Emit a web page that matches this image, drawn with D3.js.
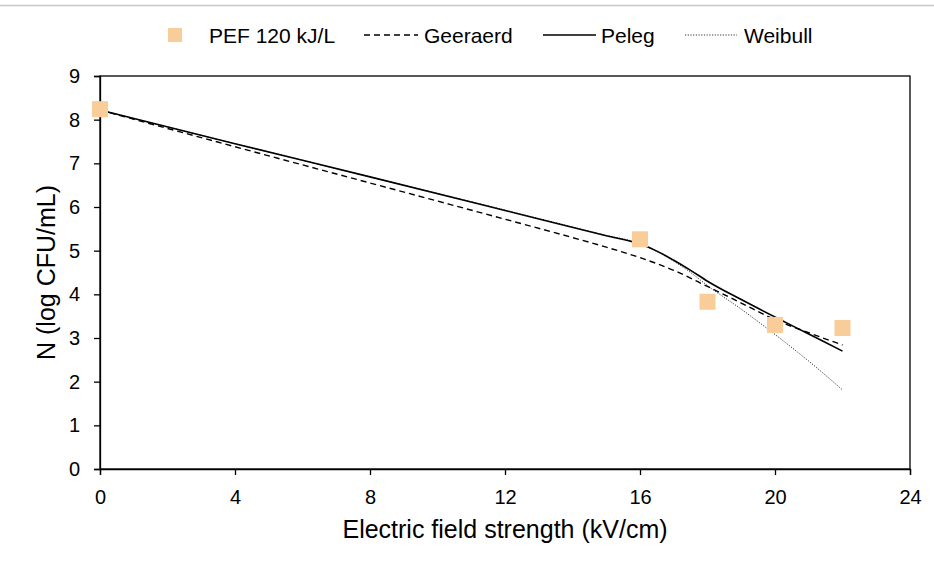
<!DOCTYPE html>
<head>
    <meta charset="utf-8">
    <script src="https://d3js.org/d3.v7.min.js"></script>
    <style>
        body { margin: 0; background: #fff; }
        text { font-family: "Liberation Sans", Arial, sans-serif; fill: #000; }
    </style>
</head>

<body>
    <svg width="934" height="565"></svg>

    <script>
        // measured data
        const obsE = [0, 16, 18, 20, 22]
        const obsN = [8.24, 5.26, 3.83, 3.30, 3.23]

        // model curves
        const geeraerdE = [0, 4, 8, 12, 14, 15, 16, 17, 18, 19, 20, 21, 22]
        const geeraerdN = [8.22, 7.38, 6.55, 5.72, 5.30, 5.08, 4.84, 4.55, 4.18, 3.80, 3.42, 3.12, 2.84]
        const pelegE = [0, 4, 8, 12, 15, 16, 16.5, 17, 17.5, 18, 19, 20, 21, 22]
        const pelegN = [8.22, 7.45, 6.69, 5.92, 5.34, 5.15, 4.99, 4.78, 4.55, 4.30, 3.88, 3.48, 3.09, 2.70]
        const weibullE = [0, 4, 8, 12, 15, 16, 16.5, 17, 17.5, 18, 19, 20, 21, 22]
        const weibullN = [8.22, 7.45, 6.69, 5.93, 5.35, 5.16, 4.98, 4.76, 4.50, 4.20, 3.66, 3.08, 2.47, 1.81]

        const xTicks = [0, 4, 8, 12, 16, 20, 24]
        const yTicks = [0, 1, 2, 3, 4, 5, 6, 7, 8, 9]

        const svg = d3.select("svg")
        const mLeft = 100, mRight = 910, mTop = 76, mBottom = 469

        const x = d3.scaleLinear().domain([0, 24]).range([mLeft, mRight])
        const y = d3.scaleLinear().domain([0, 9]).range([mBottom, mTop])

        // thin grey rule at the very top
        svg.append("line")
            .attr("x1", 0).attr("x2", 934).attr("y1", 5.5).attr("y2", 5.5)
            .attr("stroke", "#c8c8c8").attr("stroke-width", 1.5)

        // plot frame
        svg.append("rect")
            .attr("x", mLeft).attr("y", mTop)
            .attr("width", mRight - mLeft).attr("height", mBottom - mTop)
            .attr("fill", "none").attr("stroke", "#000").attr("stroke-width", 1.3)

        const xAxis = svg.append("g")
            .attr("transform", `translate(0,${mBottom})`)
            .call(d3.axisBottom(x).tickValues(xTicks).tickSize(6).tickPadding(15))
        const yAxis = svg.append("g")
            .attr("transform", `translate(${mLeft},0)`)
            .call(d3.axisLeft(y).tickValues(yTicks).tickSize(6).tickPadding(14))

        for (const ax of [xAxis, yAxis]) {
            ax.select(".domain").attr("stroke", "#000").attr("stroke-width", 1.3)
            ax.selectAll(".tick line").attr("stroke", "#000").attr("stroke-width", 1.3)
            ax.selectAll(".tick text").style("font-size", "20px")
                .style("font-family", "'Liberation Sans', Arial, sans-serif")
        }

        // axis titles
        svg.append("text")
            .attr("x", (mLeft + mRight) / 2).attr("y", 538)
            .attr("text-anchor", "middle").style("font-size", "25px")
            .text("Electric field strength (kV/cm)")
        svg.append("text")
            .attr("transform", `translate(55,${(mTop + mBottom) / 2}) rotate(-90)`)
            .attr("text-anchor", "middle").style("font-size", "25px")
            .text("N (log CFU/mL)")

        // model lines
        const line = d3.line().x(d => x(d[0])).y(d => y(d[1])).curve(d3.curveMonotoneX)
        const zip = (a, b) => a.map((v, i) => [v, b[i]])

        svg.append("path")
            .attr("d", line(zip(weibullE, weibullN)))
            .attr("fill", "none").attr("stroke", "#333").attr("stroke-width", 1)
            .attr("stroke-dasharray", "1.2,1.5")
        svg.append("path")
            .attr("d", line(zip(geeraerdE, geeraerdN)))
            .attr("fill", "none").attr("stroke", "#000").attr("stroke-width", 1.4)
            .attr("stroke-dasharray", "6,4")
        svg.append("path")
            .attr("d", line(zip(pelegE, pelegN)))
            .attr("fill", "none").attr("stroke", "#000").attr("stroke-width", 1.6)

        // observed points
        const sq = 16
        svg.selectAll("rect.obs")
            .data(zip(obsE, obsN))
            .enter()
            .append("rect")
            .attr("class", "obs")
            .attr("x", d => x(d[0]) - sq / 2)
            .attr("y", d => y(d[1]) - sq / 2)
            .attr("width", sq).attr("height", sq)
            .attr("fill", "#f8cd9a")

        // legend
        const ly = 35
        const lg = svg.append("g").style("font-size", "21px")
        lg.append("rect").attr("x", 168).attr("y", ly - 7).attr("width", 14).attr("height", 14)
            .attr("fill", "#f8cd9a")
        lg.append("text").attr("x", 209).attr("y", ly + 7.5).text("PEF 120 kJ/L")
        lg.append("line").attr("x1", 364).attr("x2", 418).attr("y1", ly).attr("y2", ly)
            .attr("stroke", "#000").attr("stroke-width", 1.3).attr("stroke-dasharray", "6,4")
        lg.append("text").attr("x", 424).attr("y", ly + 7.5).text("Geeraerd")
        lg.append("line").attr("x1", 543).attr("x2", 596).attr("y1", ly).attr("y2", ly)
            .attr("stroke", "#000").attr("stroke-width", 1.5)
        lg.append("text").attr("x", 601).attr("y", ly + 7.5).text("Peleg")
        lg.append("line").attr("x1", 685).attr("x2", 737).attr("y1", ly).attr("y2", ly)
            .attr("stroke", "#333").attr("stroke-width", 1).attr("stroke-dasharray", "1.2,1.5")
        lg.append("text").attr("x", 744).attr("y", ly + 7.5).text("Weibull")
    </script>
</body>
